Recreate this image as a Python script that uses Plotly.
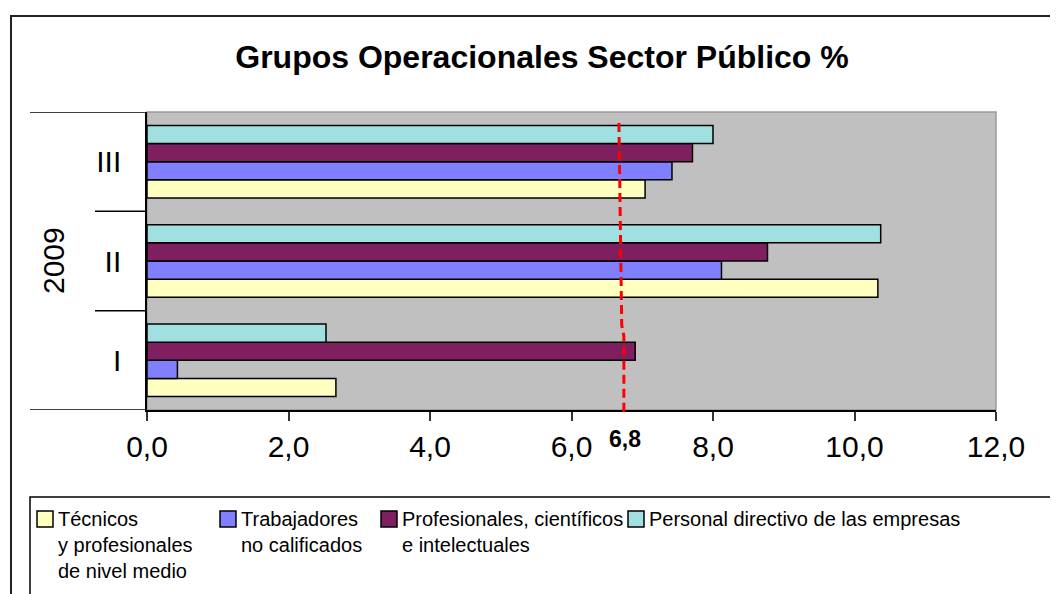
import plotly.graph_objects as go

# ---- data ----
categories = ["I", "II", "III"]
year_label = "2009"
tecnicos = [2.67, 10.33, 7.04]
trabajadores = [0.43, 8.12, 7.42]
profesionales = [6.90, 8.77, 7.71]
directivo = [2.53, 10.37, 8.00]
series_names = [
    "Técnicos<br>y profesionales<br>de nivel medio",
    "Trabajadores<br>no calificados",
    "Profesionales, científicos<br>e intelectuales",
    "Personal directivo de las empresas",
]
series_colors = ["#FFFFC0", "#8080FF", "#7F1F5F", "#A0E0E0"]
x_ticks = [0, 2, 4, 6, 8, 10, 12]
x_ticktext = ["0,0", "2,0", "4,0", "6,0", "8,0", "10,0", "12,0"]
ref_value = 6.8
ref_label = "6,8"
title = "Grupos Operacionales Sector Público %"

# ---- geometry helpers (target-pixel -> paper) ----
OFF = 8                      # page body margin of the html page
W, H = 1058 - OFF, 594 - OFF
PL, PR, PT, PB = 147, 996, 112, 410   # plot area in target pixels
def px(x):
    return (x - PL) / (PR - PL)
def py(y):
    return (PB - y) / (PB - PT)

FONT = "Liberation Sans"

fig = go.Figure()
series = [tecnicos, trabajadores, profesionales, directivo]
for vals, name, col in zip(series, series_names, series_colors):
    fig.add_trace(go.Bar(
        y=categories, x=vals, orientation="h", name=name.replace("<br>", " "),
        marker=dict(color=col, line=dict(color="black", width=1.5)),
        showlegend=False,
    ))

shapes = []
annotations = []
# outer chart frame
shapes.append(dict(type="rect", xref="paper", yref="paper",
                   x0=px(11), x1=px(1120), y0=py(16), y1=py(700),
                   line=dict(color="#222222", width=2), layer="below"))
# plot area light border
shapes.append(dict(type="rect", xref="paper", yref="paper",
                   x0=0, x1=1, y0=0, y1=1,
                   line=dict(color="#9a9a9a", width=1.5), layer="below"))
# category divider ticks on the left
n = len(categories)
for b in range(n + 1):
    yb = b - 0.5
    outer = b == 0 or b == n
    shapes.append(dict(type="line", xref="paper", yref="y",
                       x0=px(30) if outer else px(95), x1=0,
                       y0=yb, y1=yb,
                       line=dict(color="black", width=1.5)))
# red dashed reference line (drawn slightly slanted, as in the original)
shapes.append(dict(type="path", xref="x", yref="paper",
                   path=f"M 6.67,{py(123)} L 6.71,{py(325)} L 6.74,{py(336)} L 6.74,{py(416)}",
                   line=dict(color="red", width=3, dash="9px,5px")))

# legend (box, swatches, labels)
shapes.append(dict(type="rect", xref="paper", yref="paper",
                   x0=px(30), x1=px(1053), y0=py(497), y1=py(660),
                   line=dict(color="black", width=1.5)))
legend_sym_x = [37, 220, 381, 628]
for sx, name, col in zip(legend_sym_x, series_names, series_colors):
    shapes.append(dict(type="rect", xref="paper", yref="paper",
                       x0=px(sx), x1=px(sx + 16), y0=py(511), y1=py(527),
                       fillcolor=col, line=dict(color="black", width=1.5)))
    annotations.append(dict(text=name, xref="paper", yref="paper",
                            x=px(sx + 19), y=py(506), xanchor="left", yanchor="top",
                            align="left", showarrow=False,
                            font=dict(family=FONT, size=20, color="black")))

annotations += [
    dict(text=year_label, xref="paper", yref="paper", x=px(53), y=0.5,
         xanchor="center", yanchor="middle",
         textangle=-90, showarrow=False,
         font=dict(family=FONT, size=30, color="black")),
    dict(text=f"<b>{ref_label}</b>", xref="x", yref="paper", x=6.76, y=py(439),
         xanchor="center", yanchor="middle",
         showarrow=False, font=dict(family=FONT, size=23, color="black")),
]

fig.update_layout(
    width=W, height=H, autosize=False,
    margin=dict(l=PL - OFF, r=W - (PR - OFF), t=PT - OFF, b=H - (PB - OFF)),
    paper_bgcolor="white", plot_bgcolor="#C0C0C0",
    showlegend=False,
    barmode="group", bargap=0.27, bargroupgap=0,
    title=dict(text=f"<b>{title}</b>", x=(542 - OFF) / W, xref="container",
               y=1 - (57 - OFF) / H, yref="container", xanchor="center", yanchor="middle",
               font=dict(family=FONT, size=32, color="black")),
    xaxis=dict(range=[0, 12], tickvals=x_ticks, ticktext=x_ticktext,
               ticks="outside", ticklen=9, tickcolor="#333", tickwidth=1.5,
               showline=True, linecolor="black", linewidth=1.5,
               showgrid=False, zeroline=False,
               tickfont=dict(family=FONT, size=30, color="black")),
    yaxis=dict(type="category", categoryorder="array", categoryarray=categories,
               range=[-0.5, n - 0.5], ticks="", showline=True, linecolor="black",
               linewidth=1.5, showgrid=False, ticklabelstandoff=18,
               tickfont=dict(family=FONT, size=30, color="black")),
    shapes=shapes, annotations=annotations,
)

fig.write_html("out.html")
